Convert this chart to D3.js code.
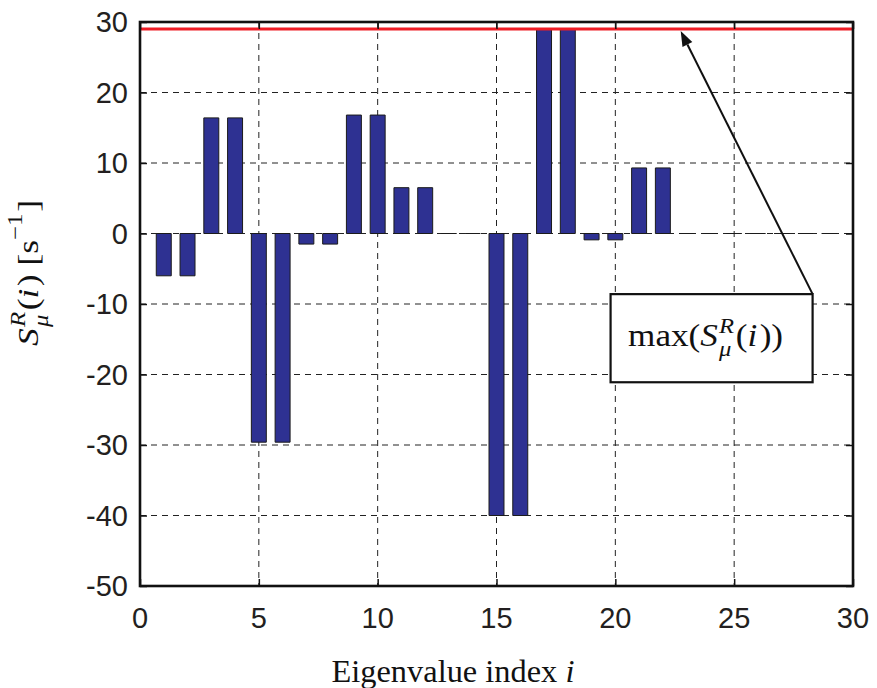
<!DOCTYPE html>
<html>
<head>
<meta charset="utf-8">
<script src="https://cdn.jsdelivr.net/npm/d3@7"></script>
<style>
  body { margin: 0; background: #fff; }
  svg { display: block; }
  text { white-space: pre; }
</style>
</head>
<body>
<svg id="chart" width="877" height="688"></svg>
<script>
// Right-eigenvalue sensitivity per eigenvalue index
const eigenIndex = d3.range(1, 31);
const sensitivity = [
  -6.0, -6.0, 16.4, 16.4, -29.6, -29.6, -1.5, -1.5, 16.8, 16.8,
   6.5,  6.5,  0.0,  0.0, -40.0, -40.0, 29.0, 29.0, -0.9, -0.9,
   9.3,  9.3,  0.0,  0.0,   0.0,   0.0,  0.0,  0.0,  0.0,  0.0
];
const xTickValues = [0, 5, 10, 15, 20, 25, 30];
const yTickValues = [-50, -40, -30, -20, -10, 0, 10, 20, 30];
const xDomain = [0, 30];
const yDomain = [-50, 30];

// Callout box (data units) and where its arrow points along the max line
const calloutBox = { x0: 19.8, x1: 28.3, yTop: -8.6, yBottom: -21.1 };
const calloutArrowX = 22.75;

const svg = d3.select("#chart");
const plot = { left: 140, right: 853, top: 22, bottom: 586 };

const x = d3.scaleLinear().domain(xDomain).range([plot.left, plot.right]);
const y = d3.scaleLinear().domain(yDomain).range([plot.bottom, plot.top]);

const sansFont = "'Liberation Sans', Arial, Helvetica, sans-serif";
const serifFont = "'Liberation Serif', 'Times New Roman', Times, serif";

svg.append("defs").append("clipPath").attr("id", "plot-clip")
  .append("rect")
  .attr("x", plot.left).attr("y", plot.top)
  .attr("width", plot.right - plot.left).attr("height", plot.bottom - plot.top);

// Grid lines
const grid = svg.append("g").attr("stroke", "#222").attr("stroke-width", 1)
  .attr("stroke-dasharray", "6,5");
grid.selectAll(".vgrid").data(xTickValues.filter(d => d > xDomain[0] && d < xDomain[1]))
  .join("line")
  .attr("x1", d => x(d)).attr("x2", d => x(d))
  .attr("y1", plot.top).attr("y2", plot.bottom);
grid.selectAll(".hgrid").data(yTickValues.filter(d => d > yDomain[0] && d < yDomain[1]))
  .join("line")
  .attr("x1", plot.left).attr("x2", plot.right)
  .attr("y1", d => y(d)).attr("y2", d => y(d));

// Bars (paths so that zero-height bars still show their edge)
const barWidth = 0.63;
svg.append("g").attr("clip-path", "url(#plot-clip)")
  .selectAll("path").data(eigenIndex.map((i, k) => ({ i, v: sensitivity[k] })))
  .join("path")
  .attr("d", d => {
    const x0 = x(d.i - barWidth / 2), x1 = x(d.i + barWidth / 2);
    const ya = y(Math.max(0, d.v)), yb = y(Math.min(0, d.v));
    return `M${x0},${ya}H${x1}V${yb}H${x0}Z`;
  })
  .attr("fill", "#2e3192")
  .attr("stroke", "#1b1b1b")
  .attr("stroke-width", 1);

// Maximum sensitivity line
const maxValue = d3.max(sensitivity);
svg.append("line")
  .attr("x1", plot.left).attr("x2", plot.right)
  .attr("y1", y(maxValue)).attr("y2", y(maxValue))
  .attr("stroke", "#ee1c25").attr("stroke-width", 3);

// Axes frame with inward ticks on all four sides
const tickLen = 7;
const xAxisBottom = d3.axisBottom(x).tickValues(xTickValues).tickSize(-tickLen).tickFormat("");
const xAxisTop = d3.axisTop(x).tickValues(xTickValues).tickSize(-tickLen).tickFormat("");
const yAxisLeft = d3.axisLeft(y).tickValues(yTickValues).tickSize(-tickLen).tickFormat("");
const yAxisRight = d3.axisRight(y).tickValues(yTickValues).tickSize(-tickLen).tickFormat("");

function styleAxis(g) {
  g.select(".domain").remove();
  g.selectAll(".tick line").attr("stroke", "#111").attr("stroke-width", 1.5);
}
svg.append("g").attr("transform", `translate(0,${plot.bottom})`).call(xAxisBottom).call(styleAxis);
svg.append("g").attr("transform", `translate(0,${plot.top})`).call(xAxisTop).call(styleAxis);
svg.append("g").attr("transform", `translate(${plot.left},0)`).call(yAxisLeft).call(styleAxis);
svg.append("g").attr("transform", `translate(${plot.right},0)`).call(yAxisRight).call(styleAxis);

svg.append("rect")
  .attr("x", plot.left).attr("y", plot.top)
  .attr("width", plot.right - plot.left).attr("height", plot.bottom - plot.top)
  .attr("fill", "none").attr("stroke", "#111").attr("stroke-width", 2.6);

// Tick labels
const tickFont = 29;
svg.append("g").selectAll("text").data(xTickValues).join("text")
  .attr("x", d => x(d)).attr("y", plot.bottom + 42)
  .attr("text-anchor", "middle")
  .attr("font-family", sansFont).attr("font-size", tickFont).attr("fill", "#231f20")
  .text(d => d);
svg.append("g").selectAll("text").data(yTickValues).join("text")
  .attr("x", plot.left - 12).attr("y", d => y(d) + 10.4)
  .attr("text-anchor", "end")
  .attr("font-family", sansFont).attr("font-size", tickFont).attr("fill", "#231f20")
  .text(d => d);

// Small math typesetter: runs of text, italic pieces, and stacked sub/superscripts.
// The finished line is stretched horizontally to the requested width.
function typeset(parent, runs, size, targetWidth) {
  const outer = parent.append("g");
  const g = outer.append("g")
    .attr("font-family", serifFont).attr("fill", "#111");
  let cx = 0;
  const put = (txt, px, py, fs, italic) => {
    const t = g.append("text").attr("x", px).attr("y", py)
      .attr("font-size", fs).style("font-style", italic ? "italic" : "normal")
      .text(txt);
    return t.node().getComputedTextLength();
  };
  runs.forEach(r => {
    if (r.sup !== undefined || r.sub !== undefined) {
      const fs = size * 0.7;
      let w = 0;
      if (r.sup !== undefined) w = Math.max(w, put(r.sup, cx, -size * (r.supRaise || 0.42), fs, r.supItalic !== false));
      if (r.sub !== undefined) w = Math.max(w, put(r.sub, cx, size * 0.32, fs, r.subItalic !== false));
      cx += w + size * 0.05;
    } else {
      cx += put(r.t, cx, 0, size, !!r.italic) + (r.gap || 0);
    }
  });
  const sx = targetWidth ? targetWidth / cx : 1;
  g.attr("transform", `scale(${sx},1)`);
  return { g: outer, width: cx * sx };
}

// Axis titles
const xTitle = typeset(svg, [
  { t: "Eigenvalue index " },
  { t: "i", italic: true }
], 31, 243);
xTitle.g.attr("transform", `translate(${453 - xTitle.width / 2},682)`);

const yTitleHolder = svg.append("g").attr("transform", "translate(38,273) rotate(-90)");
const yTitle = typeset(yTitleHolder, [
  { t: "S", italic: true, gap: 1 },
  { sup: "R", sub: "\u03bc" },
  { t: "(" },
  { t: "i", italic: true, gap: 2 },
  { t: ") [s" },
  { sup: "\u22121", supRaise: 0.55, supItalic: false },
  { t: "]" }
], 30, 146);
yTitle.g.attr("transform", `translate(${-yTitle.width / 2},0)`);

// Callout box with arrow pointing at the maximum line
const bx0 = x(calloutBox.x0), bx1 = x(calloutBox.x1);
const by0 = y(calloutBox.yTop), by1 = y(calloutBox.yBottom);
const tip = [x(calloutArrowX), y(maxValue) + 2];
const tail = [bx1, by0];
const ang = Math.atan2(tip[1] - tail[1], tip[0] - tail[0]);
const headLen = 15, headHalf = 5.5;
const base = [tip[0] - headLen * Math.cos(ang), tip[1] - headLen * Math.sin(ang)];
svg.append("line")
  .attr("x1", tail[0]).attr("y1", tail[1]).attr("x2", base[0]).attr("y2", base[1])
  .attr("stroke", "#111").attr("stroke-width", 2);
svg.append("path")
  .attr("d", `M${tip[0]},${tip[1]}` +
    `L${base[0] + headHalf * Math.sin(ang)},${base[1] - headHalf * Math.cos(ang)}` +
    `L${base[0] - headHalf * Math.sin(ang)},${base[1] + headHalf * Math.cos(ang)}Z`)
  .attr("fill", "#111");

svg.append("rect")
  .attr("x", bx0).attr("y", by0).attr("width", bx1 - bx0).attr("height", by1 - by0)
  .attr("fill", "#fff").attr("stroke", "#111").attr("stroke-width", 2.2);

const callout = typeset(svg, [
  { t: "max(" },
  { t: "S", italic: true, gap: 1 },
  { sup: "R", sub: "\u03bc" },
  { t: "(" },
  { t: "i", italic: true, gap: 2 },
  { t: "))" }
], 31, 155);
callout.g.attr("transform", `translate(${(bx0 + bx1) / 2 - 6 - callout.width / 2},${(by0 + by1) / 2 + 8})`);
</script>
</body>
</html>
